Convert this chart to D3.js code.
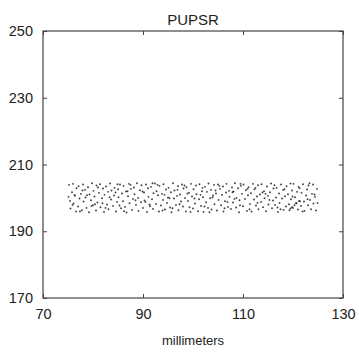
<!DOCTYPE html>
<html><head><meta charset="utf-8">
<script src="https://cdn.jsdelivr.net/npm/d3@7"></script>
<style>body{margin:0;background:#fff}text{font-family:"Liberation Sans",Arial,sans-serif}</style>
</head><body><svg id="c" width="359" height="352"></svg>
<script>
const title = "PUPSR";
const xLabel = "millimeters";
const xTicks = [70, 90, 110, 130];
const yTicks = [170, 190, 210, 230, 250];
const xDomain = [70, 130];
const yDomain = [170, 250];
// scatter points, flat list of x,y pairs (estimated)
const ptsMain = [
75.2,203.9,75.4,199.1,75.5,196.8,75.8,201.7,76.0,204.2,76.1,198.3,76.4,200.6,76.6,195.9,76.7,202.9,77.0,197.4,77.1,203.5,77.3,199.8,77.6,201.2,77.8,196.3,78.0,204.0,78.1,198.9,78.4,202.4,78.5,200.1,78.7,197.0,79.0,203.2,79.2,195.7,79.3,201.0,79.6,199.3,79.8,204.4,80.0,197.8,80.1,202.1,80.3,200.4,80.6,196.2,80.7,203.7,80.9,198.6,81.2,201.5,81.4,204.1,81.5,197.2,81.8,199.9,82.0,202.8,82.2,195.8,82.3,200.9,82.6,203.4,82.8,198.0,83.0,201.8,83.1,196.6,83.4,204.3,83.6,199.5,83.7,202.2,84.0,197.6,84.2,200.7,84.3,203.0,84.6,195.9,84.8,198.8,85.0,202.6,85.1,200.2,85.4,204.0,85.6,196.9,85.8,201.3,86.0,199.0,86.1,203.6,86.4,197.3,86.6,201.9,86.7,195.6,87.0,200.5,87.2,204.2,87.3,198.4,87.6,202.7,87.8,196.4,88.0,199.7,88.2,203.1,88.3,201.1,88.6,197.9,88.8,204.4,89.0,200.0,89.1,196.1,89.4,202.3,89.6,198.7,89.7,203.8,90.0,197.0,90.2,201.6,90.3,199.2,90.6,204.0,90.8,195.8,91.0,202.9,91.1,200.3,91.4,197.5,91.6,203.3,91.8,199.6,92.0,196.7,92.1,201.4,92.4,204.3,92.6,198.2,92.7,202.0,93.0,200.8,93.2,195.9,93.3,203.6,93.6,197.7,93.8,201.2,94.0,199.4,94.1,204.1,94.4,196.5,94.6,202.5,94.8,198.5,95.0,200.1,95.1,203.0,95.4,197.1,95.6,201.7,95.7,195.7,96.0,204.4,96.2,199.8,96.3,202.2,96.6,197.9,96.8,200.6,97.0,203.5,97.1,196.3,97.4,201.0,97.6,198.9,97.8,204.0,98.0,197.4,98.1,202.8,98.4,200.0,98.6,195.9,98.7,203.2,99.0,199.1,99.2,201.5,99.3,197.2,99.6,204.2,99.8,200.4,100.0,196.8,100.1,202.6,100.4,198.3,100.6,203.7,100.7,201.1,101.0,196.0,101.2,199.6,101.3,204.1,101.6,197.6,101.8,202.0,102.0,200.2,102.1,195.8,102.4,203.3,102.6,198.7,102.8,201.8,103.0,197.0,103.1,204.3,103.4,199.9,103.6,202.4,103.7,196.5,104.0,200.7,104.2,203.9,104.3,198.1,104.6,201.3,104.8,196.2,105.0,204.0,105.1,199.4,105.4,202.7,105.6,197.8,105.8,200.9,106.0,203.4,106.1,195.9,106.4,199.0,106.6,201.6,106.7,204.2,107.0,197.3,107.2,202.1,107.3,200.3,107.6,196.7,107.8,203.1,108.0,198.6,108.1,201.9,108.4,204.4,108.6,197.1,108.7,200.0,109.0,202.9,109.2,195.7,109.3,199.3,109.6,203.6,109.8,201.2,110.0,197.5,110.1,204.0,110.4,199.7,110.6,202.3,110.8,196.1,111.0,200.8,111.1,203.2,111.4,198.2,111.6,201.4,111.7,195.9,112.0,204.2,112.2,199.5,112.3,202.6,112.6,197.7,112.8,200.4,113.0,203.8,113.1,196.6,113.4,201.0,113.6,198.8,113.7,204.1,114.0,197.2,114.2,202.0,114.3,199.9,114.6,196.0,114.8,203.4,115.0,200.6,115.1,198.0,115.4,201.7,115.6,204.3,115.8,196.9,116.0,199.2,116.1,202.8,116.4,197.9,116.6,200.1,116.7,203.0,117.0,195.8,117.2,201.3,117.3,198.5,117.6,204.0,117.8,199.8,118.0,202.4,118.1,196.4,118.4,200.5,118.6,197.4,118.7,203.5,119.0,201.1,119.2,198.1,119.3,196.3,119.6,199.6,119.8,202.2,120.0,197.0,120.1,204.2,120.4,200.2,120.6,198.4,120.8,201.8,121.0,196.5,121.1,203.3,121.4,199.0,121.6,197.6,121.7,201.5,122.0,204.1,122.2,198.9,122.3,196.1,122.6,200.7,122.8,202.5,123.0,197.8,123.1,203.7,123.4,199.4,123.6,196.6,123.8,201.2,124.0,204.0,124.1,198.3,124.4,200.3,124.6,196.2,124.8,202.7
];
const ptsExtra = [
76.3,200.9,77.9,202.2,79.7,197.6,81.0,203.1,81.9,198.4,83.3,200.2,84.9,204.1,85.3,197.7,86.9,202.0,88.5,199.3,89.9,201.9,91.3,198.0,92.9,203.9,93.9,196.2,95.3,199.9,96.9,202.4,97.3,198.1,98.9,201.3,100.3,199.8,101.9,203.0,102.3,197.4,103.9,200.1,105.3,203.6,106.9,198.8,107.9,201.7,109.4,197.8,110.9,202.7,112.9,198.5,113.9,201.6,115.3,199.4,116.9,197.1,118.3,202.6,119.9,200.4,121.3,202.9,122.9,199.6,124.3,201.0,
119.8,197.2,120.3,197.8,120.7,198.4,121.2,199.1,119.5,196.8,
75.1,200.3,75.9,197.9,77.4,195.9,78.8,200.8,80.4,198.1,82.5,197.0,84.5,201.6,86.2,196.0,87.5,203.9,90.5,198.8,91.9,204.4,94.3,200.9,95.9,196.9,98.3,203.7,99.5,195.8,101.5,200.9,103.3,195.7,104.5,202.2,106.3,196.9,108.3,199.7,109.5,204.2,111.3,196.6,112.5,203.0,114.5,201.2,116.3,203.8,117.5,196.6,119.5,204.3,121.9,195.9,123.3,204.4,124.9,198.5
];
const pts = ptsMain.concat(ptsExtra);
const xs = pts.filter((d,i)=>i%2===0);
const ys = pts.filter((d,i)=>i%2===1);

const svg = d3.select("#c");
const L=43, R=343, T=31, B=298;
const x = d3.scaleLinear().domain(xDomain).range([L,R]);
const y = d3.scaleLinear().domain(yDomain).range([B,T]);
const col = "#444";

svg.append("g").selectAll("circle").data(xs).join("circle")
  .attr("cx",(d)=>x(d)).attr("cy",(d,i)=>y(ys[i])).attr("r",0.95)
  .attr("fill","#111").attr("fill-opacity",0.8);

function styleAxis(g){g.select(".domain").remove();g.selectAll("line").attr("stroke",col);g.selectAll("text").attr("fill","#222").attr("font-size",14.5).attr("font-family","'Liberation Sans',Arial,sans-serif");}
svg.append("g").attr("transform",`translate(0,${B})`).call(d3.axisBottom(x).tickValues(xTicks).tickSizeInner(-4).tickSizeOuter(0).tickPadding(11)).call(styleAxis);
svg.append("g").attr("transform",`translate(0,${T})`).call(d3.axisTop(x).tickValues(xTicks).tickSizeInner(-4).tickSizeOuter(0).tickFormat("")).call(styleAxis);
svg.append("g").attr("transform",`translate(${L},0)`).call(d3.axisLeft(y).tickValues(yTicks).tickSizeInner(-4).tickSizeOuter(0).tickPadding(10)).call(styleAxis);
svg.append("g").attr("transform",`translate(${R},0)`).call(d3.axisRight(y).tickValues(yTicks).tickSizeInner(-4).tickSizeOuter(0).tickFormat("")).call(styleAxis);
svg.append("rect").attr("x",L).attr("y",T).attr("width",R-L).attr("height",B-T).attr("fill","none").attr("stroke",col).attr("stroke-width",1.2);

svg.append("text").attr("x",193).attr("y",25).attr("text-anchor","middle").attr("font-size",15).attr("fill","#222").text(title);
svg.append("text").attr("x",193).attr("y",345).attr("text-anchor","middle").attr("font-size",13).attr("fill","#222").text(xLabel);
</script></body></html>
